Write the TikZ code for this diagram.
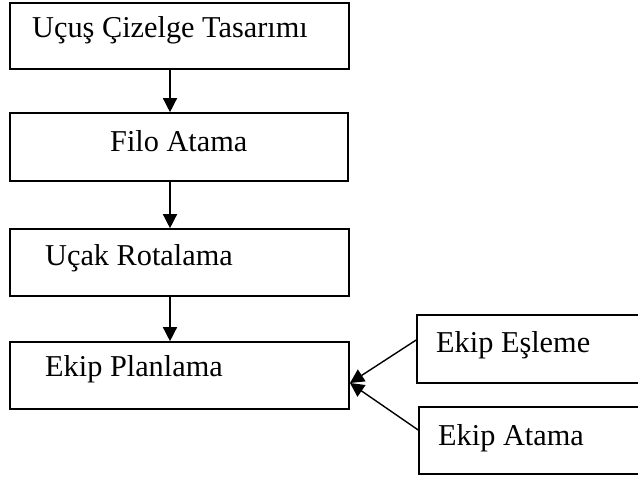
\documentclass[tikz,border=0pt]{standalone}
\usepackage{fontspec}
\setmainfont{Liberation Serif}
\usetikzlibrary{arrows.meta}
\begin{document}
\begin{tikzpicture}[x=1pt,y=-1pt,
  box/.style={draw,line width=1.6pt,rectangle,inner sep=0pt},
  lbl/.style={anchor=base west,inner sep=0pt,font=\fontsize{30.3}{34}\selectfont},
  arr/.style={line width=1.4pt,-{Triangle[length=14pt,width=14pt]}}]
\useasboundingbox (0,0) rectangle (638,478);
% boxes
\node[box,minimum width=339pt,minimum height=66pt] (b1) at (179.5,36) {};
\node[box,minimum width=338pt,minimum height=68pt] (b2) at (179,147) {};
\node[box,minimum width=339pt,minimum height=67pt] (b3) at (179.5,262.5) {};
\node[box,minimum width=339pt,minimum height=67pt] (b4) at (179.5,375.5) {};
\node[box,minimum width=300pt,minimum height=68pt] (b5) at (567,349) {};
\node[box,minimum width=300pt,minimum height=67pt] (b6) at (569,440.5) {};
% labels
\node[lbl] (t1) at (32,38) {Uçuş Çizelge Tasarımı};
\node[lbl] (t2) at (110,152) {Filo Atama};
\node[lbl] (t3) at (45,266) {Uçak Rotalama};
\node[lbl] (t4) at (45,377) {Ekip Planlama};
\node[lbl] (t5) at (436,353) {Ekip Eşleme};
\node[lbl] (t6) at (438,446) {Ekip Atama};
% connectors
\coordinate (ax) at (170,0);
\draw[arr] (b1.south -| ax) -- (b2.north -| ax);
\draw[arr] (b2.south -| ax) -- (b3.north -| ax);
\draw[arr] (b3.south -| ax) -- (b4.north -| ax);
\coordinate (tip) at (350,383);
\coordinate (s5) at (417,340);
\coordinate (s6) at (419,430);
\draw[arr] (b5.west |- s5) -- (tip);
\draw[arr] (b6.west |- s6) -- (tip);
\end{tikzpicture}
\end{document}
